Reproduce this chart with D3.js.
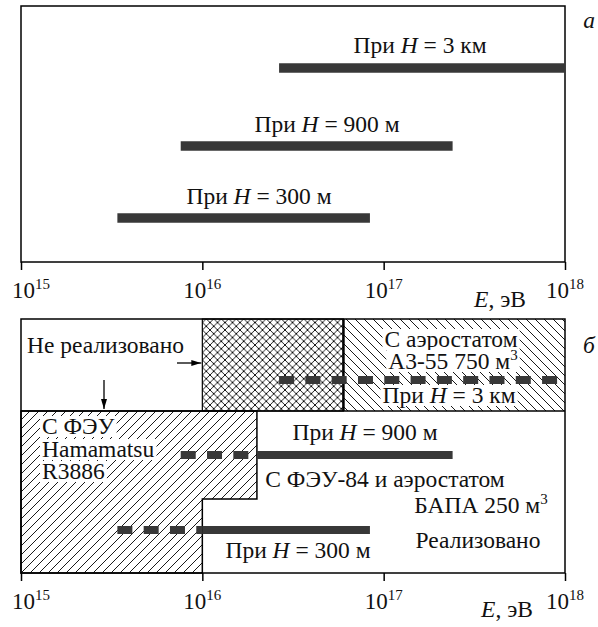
<!DOCTYPE html>
<html><head><meta charset="utf-8">
<script src="https://cdn.jsdelivr.net/npm/d3@7"></script>
<style>
html,body{margin:0;padding:0;background:#fff;}
svg{display:block;}
</style></head>
<body>
<script>
// ---- data ----
const decades = [1e15, 1e16, 1e17, 1e18];
const decadeExponents = ["15", "16", "17", "18"];
const altitudes = ["3 км", "900 м", "300 м"];
const rangeStart = [2.65e16, 7.6e15, 3.4e15];   // eV
const rangeEnd = [1e18, 2.4e17, 8.4e16];        // eV
const realizedFrom = [Infinity, 2e16, 1e16];    // eV, dashed below, solid above
const crossHatchFrom = 1e16, crossHatchTo = 6e16;   // unrealized band (top of panel б)
const hamamatsuLimit = 2e16, fey84Limit = 1e16;

// ---- layout ----
const W = 598, H = 627;
const svg = d3.select("body").append("svg").attr("width", W).attr("height", H)
  .attr("font-family", "Liberation Serif");
const x = d3.scaleLog().domain([1e15, 1e18]).range([21, 565]);
const FS = 23.5, INK = "#383838";

const defs = svg.append("defs");
function hatch(id, s, kinds) {
  const p = defs.append("pattern").attr("id", id).attr("patternUnits", "userSpaceOnUse")
    .attr("width", s).attr("height", s);
  let d = "";
  if (kinds.includes("/")) d += `M${-s/2},${s/2}L${s/2},${-s/2}M0,${s}L${s},0M${s/2},${s*1.5}L${s*1.5},${s/2}`;
  if (kinds.includes("\\")) d += `M${-s/2},${s/2}L${s/2},${s*1.5}M0,0L${s},${s}M${s/2},${-s/2}L${s*1.5},${s/2}`;
  p.append("path").attr("d", d).attr("stroke", "#000").attr("stroke-width", 0.9).attr("fill", "none");
}
hatch("cross", 7.5, "/\\");
hatch("fwd", 9, "/");
hatch("back", 9, "\\");

function label(g, tx, ty, parts, anchor) {
  const t = g.append("text").attr("x", tx).attr("y", ty).attr("font-size", FS)
    .attr("font-family", "Liberation Serif")
    .attr("text-anchor", anchor || "middle").attr("fill", "#111");
  parts.forEach(p => {
    const s = t.append("tspan").text(p.t);
    if (p.i) s.attr("font-style", "italic");
    if (p.sup) s.attr("dy", -9).attr("font-size", 15);
  });
  return t;
}
function whiteBg(g, t, pad) {
  const b = t.node().getBBox();
  g.insert("rect", () => t.node()).attr("x", b.x - pad).attr("y", b.y + 3).attr("width", b.width + 2*pad)
    .attr("height", b.height - 5).attr("fill", "#fff");
}
function axis(y0) {
  const g = svg.append("g").attr("transform", `translate(0,${y0})`)
    .call(d3.axisBottom(x).tickValues(decades).tickSize(8).tickSizeOuter(0).tickFormat(""));
  g.select(".domain").remove();
  g.selectAll(".tick line").attr("stroke", "#000").attr("stroke-width", 1.5);
  decades.forEach((d, i) => {
    const t = g.append("text").attr("x", x(d) + (i === 0 ? 10 : 0)).attr("y", 36)
      .attr("font-family", "Liberation Serif")
      .attr("text-anchor", "middle").attr("font-size", 23).attr("fill", "#111");
    t.append("tspan").text("10");
    t.append("tspan").text(decadeExponents[i]).attr("font-size", 15).attr("dy", -9);
  });
}

// ===== panel а =====
const topY0 = 6, topY1 = 262;
const barY = [68, 146, 218];
const topLabelPos = [[420, 53], [327, 132], [259, 204]];
svg.append("rect").attr("x", x(1e15)).attr("y", topY0).attr("width", x(1e18) - x(1e15))
  .attr("height", topY1 - topY0).attr("fill", "none").attr("stroke", "#000").attr("stroke-width", 1.5);
altitudes.forEach((a, i) => {
  svg.append("line").attr("x1", x(rangeStart[i])).attr("x2", x(rangeEnd[i]))
    .attr("y1", barY[i]).attr("y2", barY[i]).attr("stroke", INK).attr("stroke-width", 9.5);
  label(svg, topLabelPos[i][0], topLabelPos[i][1], [{t: "При "}, {t: "H", i: 1}, {t: " = " + a}]);
});
axis(topY1);
label(svg, 500, 307, [{t: "E", i: 1}, {t: ", эВ"}]);
label(svg, 589, 28, [{t: "а", i: 1}]);

// ===== panel б =====
const bY0 = 319, bY1 = 573, divY = 411, stepY = 499;
const bp = svg.append("g");
bp.append("rect").attr("x", x(crossHatchFrom)).attr("y", bY0).attr("width", x(crossHatchTo) - x(crossHatchFrom))
  .attr("height", divY - bY0).attr("fill", "url(#cross)").attr("stroke", "#000").attr("stroke-width", 1.2);
bp.append("rect").attr("x", x(crossHatchTo)).attr("y", bY0).attr("width", x(1e18) - x(crossHatchTo))
  .attr("height", divY - bY0).attr("fill", "url(#back)");
const hp = [[x(1e15), divY], [x(hamamatsuLimit), divY], [x(hamamatsuLimit), stepY], [x(fey84Limit), stepY],
  [x(fey84Limit), bY1], [x(1e15), bY1]];
bp.append("path").attr("d", d3.line()(hp) + "Z").attr("fill", "url(#fwd)").attr("stroke", "#000").attr("stroke-width", 1.5);
bp.append("line").attr("x1", x(1e15)).attr("x2", x(1e18)).attr("y1", divY).attr("y2", divY)
  .attr("stroke", "#000").attr("stroke-width", 1.5);
bp.append("line").attr("x1", x(crossHatchTo)).attr("x2", x(crossHatchTo)).attr("y1", bY0).attr("y2", divY)
  .attr("stroke", "#000").attr("stroke-width", 2.5);
bp.append("rect").attr("x", x(1e15)).attr("y", bY0).attr("width", x(1e18) - x(1e15))
  .attr("height", bY1 - bY0).attr("fill", "none").attr("stroke", "#000").attr("stroke-width", 1.5);

// texts with white backgrounds
const tg = svg.append("g");
[["С аэростатом", 451, 347], ["А3-55 750 м", 453, 369, "3"]].forEach(d => {
  const parts = [{t: d[0]}]; if (d[3]) parts.push({t: d[3], sup: 1});
  const t = label(tg, d[1], d[2], parts); whiteBg(tg, t, 2);
});
{ const t = label(tg, 449, 403, [{t: "При "}, {t: "H", i: 1}, {t: " = 3 км"}]); whiteBg(tg, t, 2); }
[["С ФЭУ", 434], ["Hamamatsu", 457], ["R3886", 479]].forEach(d => {
  const t = label(tg, 42, d[1], [{t: d[0]}], "start"); whiteBg(tg, t, 2);
});
label(tg, 27, 353, [{t: "Не реализовано"}], "start");
label(tg, 365, 440, [{t: "При "}, {t: "H", i: 1}, {t: " = 900 м"}]);
label(tg, 385, 487, [{t: "С ФЭУ-84 и аэростатом"}]);
label(tg, 481, 513, [{t: "БАПА 250 м"}, {t: "3", sup: 1}]);
label(tg, 298, 558, [{t: "При "}, {t: "H", i: 1}, {t: " = 300 м"}]);
label(tg, 478, 548, [{t: "Реализовано"}]);

// bars: dashed where unrealized, solid where realized
const bBarY = [380, 455, 530];
altitudes.forEach((a, i) => {
  const split = Math.min(realizedFrom[i], rangeEnd[i]);
  svg.append("line").attr("x1", x(rangeStart[i])).attr("x2", x(split)).attr("y1", bBarY[i]).attr("y2", bBarY[i])
    .attr("stroke", INK).attr("stroke-width", 8).attr("stroke-dasharray", "15 11.3");
  if (split < rangeEnd[i])
    svg.append("line").attr("x1", x(split)).attr("x2", x(rangeEnd[i])).attr("y1", bBarY[i]).attr("y2", bBarY[i])
      .attr("stroke", INK).attr("stroke-width", 8);
});

// arrows
defs.append("marker").attr("id", "ah").attr("viewBox", "0 0 10 6").attr("refX", 10).attr("refY", 3)
  .attr("markerWidth", 10).attr("markerHeight", 6).attr("markerUnits", "userSpaceOnUse").attr("orient", "auto")
  .append("path").attr("d", "M0,0L10,3L0,6Z").attr("fill", "#000");
svg.append("line").attr("x1", 177).attr("y1", 363).attr("x2", x(crossHatchFrom) - 1).attr("y2", 363)
  .attr("stroke", "#000").attr("stroke-width", 1.3).attr("marker-end", "url(#ah)");
svg.append("line").attr("x1", 104).attr("y1", 380).attr("x2", 104).attr("y2", divY - 2)
  .attr("stroke", "#000").attr("stroke-width", 1.3).attr("marker-end", "url(#ah)");

axis(bY1);
label(svg, 507, 617, [{t: "E", i: 1}, {t: ", эВ"}]);
label(svg, 589, 353, [{t: "б", i: 1}]);
</script>
</body></html>
